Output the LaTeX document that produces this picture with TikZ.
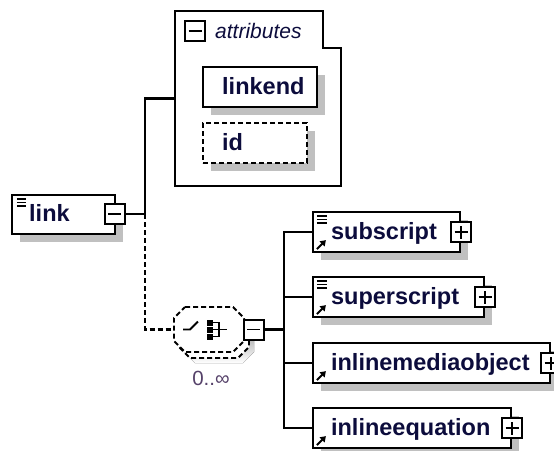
\documentclass[tikz,border=0pt]{standalone}
\usepackage{fontspec}
\setmainfont{Liberation Sans}
\usetikzlibrary{arrows.meta,calc,shadows}
\definecolor{shade}{RGB}{192,192,192}
\definecolor{ink}{RGB}{12,12,60}
\definecolor{occ}{RGB}{85,65,105}
\begin{document}
\begin{tikzpicture}[x=1pt,y=-1pt,
  box/.style={draw, line width=2.2pt, fill=white, inner sep=0pt, minimum height=40pt,
    drop shadow={shadow xshift=8pt, shadow yshift=-8pt, fill=shade, opacity=1}},
  sign/.style={draw, line width=2pt, fill=white, minimum size=20pt, inner sep=0pt},
  minusbox/.style={sign, path picture={\draw[line width=1.8pt]
      ([xshift=-6.5pt]path picture bounding box.center) -- ([xshift=6.5pt]path picture bounding box.center);}},
  plusbox/.style={sign, path picture={\draw[line width=1.8pt]
      ([xshift=-6.5pt]path picture bounding box.center) -- ([xshift=6.5pt]path picture bounding box.center)
      ([yshift=-6.5pt]path picture bounding box.center) -- ([yshift=6.5pt]path picture bounding box.center);}},
  elname/.style={font=\fontsize{23.5}{24}\selectfont\bfseries, text=ink, inner sep=0pt, anchor=base west},
  conn/.style={line width=2.2pt},
  dsh/.style={dash pattern=on 5pt off 3pt},
  icon/.style={line width=1.3pt}
]
\useasboundingbox (0,0) rectangle (554,450);

% ---------- nodes used by connectors ----------
\node[minimum width=70pt, minimum height=45pt, inner sep=0pt] (seq) at (209,329.5) {};
\node[draw=none, minimum width=166pt, minimum height=175pt, inner sep=0pt] (attr) at (258,98.5) {};
\node[box, minimum width=103pt, minimum height=39pt] (link) at (63.5,214.5) {};
\coordinate (j) at (145,214);
\coordinate (bus) at (284,329.5);

\node[box, minimum width=147pt] (sub) at (386.5,232) {};
\node[box, minimum width=171pt] (sup) at (398.5,297) {};
\node[box, minimum width=237pt] (imo) at (431.5,363) {};
\node[box, minimum width=198pt] (ieq) at (412,428) {};

\node[minusbox] (lm) at (114.5,214) {};
\draw[conn] (lm.east) -- (j) |- (attr.west);
\draw[conn,dsh] (j) |- (seq.west);
\foreach \n in {sub,sup,imo,ieq} \draw[conn] (bus) |- (\n.west);

% ---------- attributes group ----------
\draw[line width=2.2pt] (attr.north west) -- ([xshift=-18pt]attr.north east)
  -- ([xshift=-18pt,yshift=-37pt]attr.north east) -- ([yshift=-37pt]attr.north east)
  -- (attr.south east) -- (attr.south west) -- cycle;
\node[minusbox] (am) at (195,31) {};
\node[font=\fontsize{21}{22}\selectfont\itshape, text=ink, inner sep=0pt, anchor=base west] (al) at (215,38) {attributes};
\node[box, minimum width=114pt] (le) at (260,87) {};
\node[elname] (lel) at (222,94) {linkend};
\node[box, dsh, minimum width=104pt] (id) at (255,143) {};
\node[elname] (idl) at (222,150) {id};

% ---------- link element ----------
\node[elname] (linkl) at (29,221) {link};
\foreach \d in {5,8.5,12}
  \draw[icon] ([shift={(6pt,-\d pt)}]link.north west) -- ++(9pt,0pt);

% ---------- sequence compositor ----------
\begin{scope}[shift={(10,11)}]
  \fill[shade] (185,307) -- (233,307) -- (244,318) -- (244,341) -- (233,352) -- (185,352) -- (174,341) -- (174,318) -- cycle;
\end{scope}
\begin{scope}[shift={(5,6)}]
  \draw[line width=1.8pt, dsh, fill=white] (185,307) -- (233,307) -- (244,318) -- (244,341) -- (233,352) -- (185,352) -- (174,341) -- (174,318) -- cycle;
\end{scope}
\draw[line width=1.8pt, dsh, fill=white] (185,307) -- (233,307) -- (244,318) -- (244,341) -- (233,352) -- (185,352) -- (174,341) -- (174,318) -- cycle;
\draw[line width=1.8pt] (183,329.5) -- (190,329.5) -- (198,321.5);
\fill (207,319.5) rectangle (213,325.5);
\fill (207,326.5) rectangle (213,332.5);
\fill (207,333.5) rectangle (213,339.5);
\draw[line width=1.8pt] (213,322.5) -- (219,322.5) -- (219,336.5) -- (213,336.5);
\draw[line width=1.8pt] (213,329.5) -- (227,329.5);
\node[minusbox] (sm) at (253.5,329.5) {};
\draw[conn] (sm.east) -- (bus);
\node[font=\fontsize{20.5}{21}\selectfont, text=occ, inner sep=0pt, anchor=base] (occl) at (211,385) {0..∞};

% ---------- children ----------
\node[elname] (subl) at ([shift={(19pt,-7pt)}]sub.west) {subscript};
\node[elname] (supl) at ([shift={(19pt,-7pt)}]sup.west) {superscript};
\node[elname] (imol) at ([shift={(19pt,-7pt)}]imo.west) {inlinemediaobject};
\node[elname] (ieql) at ([shift={(19pt,-7pt)}]ieq.west) {inlineequation};
\foreach \n in {sub,sup}
  \foreach \d in {5,8.5,12}
    \draw[icon] ([shift={(5pt,-\d pt)}]\n.north west) -- ++(10pt,0pt);
\foreach \n in {sub,sup,imo,ieq} {
  \draw[line width=2pt, -{Triangle[length=5.5pt,width=7pt]}] ([shift={(5pt,4pt)}]\n.south west) -- ++(9pt,9pt);
  \node[plusbox] (\n p) at (\n.east) {};
}
\end{tikzpicture}
\end{document}
